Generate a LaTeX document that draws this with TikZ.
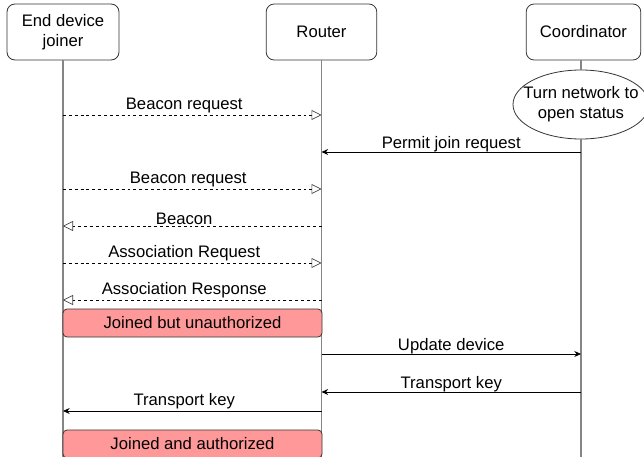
\documentclass[tikz,border=0pt]{standalone}
\usepackage{fontspec}
\setmainfont{Liberation Sans}
\usetikzlibrary{arrows.meta,shapes.geometric}
\definecolor{lifegray}{HTML}{858585}
\definecolor{statepink}{HTML}{FF9999}
\definecolor{edgedark}{HTML}{333333}

\begin{document}
\begin{tikzpicture}[x=0.75pt,y=-0.75pt,
  font=\fontsize{12.5}{15}\selectfont,
  head/.style={draw=edgedark,rounded corners=6pt,minimum height=42pt,align=center,line width=0.6pt},
  life/.style={draw=lifegray,line width=1pt},
  req/.style={dash pattern=on 2.2pt off 2.2pt,line width=0.5pt,-{Triangle[open,length=7.5pt,width=7.5pt,line width=0.5pt,color=darkgray]}},
  sig/.style={line width=0.6pt,-{Stealth[length=5pt,width=4.5pt]}},
  msg/.style={above=1pt,inner sep=0pt},
  rmsg/.style={above=-0.5pt,inner sep=0pt},
  state/.style={draw=edgedark,fill=statepink,rounded corners=3pt,minimum width=194.25pt,minimum height=21pt,line width=0.6pt}]
\useasboundingbox (0,0) rectangle (644,457);

% lifeline heads
\node[head,minimum width=84pt] (joiner) at (63,32) {End device\\joiner};
\node[head,minimum width=83pt] (router) at (321.5,32) {Router};
\node[head,minimum width=86pt] (coord) at (583.5,32) {Coordinator};
\node[draw=edgedark,ellipse,line width=0.6pt,minimum width=102pt,minimum height=51.75pt,inner xsep=-14pt,inner ysep=0pt,align=center] (open) at (581,104.5) {Turn network to\\open status};

\coordinate (bottom) at (0,457);
\draw[life] (joiner.south) -- (joiner.south |- bottom);
\draw[life] (router.south) -- (router.south |- bottom);
\draw[life] (coord.south -| open) -- (open.north);
\draw[life] (open.south) -- (open.south |- bottom);

% message levels
\coordinate (m1) at (0,115);
\coordinate (m2) at (0,152);
\coordinate (m3) at (0,189);
\coordinate (m4) at (0,226);
\coordinate (m5) at (0,263);
\coordinate (m6) at (0,300);
\coordinate (m7) at (0,354);
\coordinate (m8) at (0,392);
\coordinate (m9) at (0,411);

\draw[req] (joiner |- m1) -- node[msg,xshift=-6pt] {Beacon request} (router |- m1);
\draw[sig] (open |- m2) -- node[rmsg] {Permit join request} (router |- m2);
\draw[req] (joiner |- m3) -- node[msg,xshift=-3pt] {Beacon request} (router |- m3);
\draw[req] (router |- m4) -- node[msg,xshift=-6pt] {Beacon} (joiner |- m4);
\draw[req] (joiner |- m5) -- node[msg,xshift=-6pt] {Association Request} (router |- m5);
\draw[req] (router |- m6) -- node[msg,xshift=-6pt] {Association Response} (joiner |- m6);

\node[state] (unauth) at (192.5,323) {Joined but unauthorized};

\draw[sig] (router |- m7) -- node[rmsg] {Update device} (open |- m7);
\draw[sig] (open |- m8) -- node[rmsg] {Transport key} (router |- m8);
\draw[sig] (router |- m9) -- node[msg,xshift=-6pt] {Transport key} (joiner |- m9);

\node[state] (auth) at (192.5,444) {Joined and authorized};
\end{tikzpicture}
\end{document}
